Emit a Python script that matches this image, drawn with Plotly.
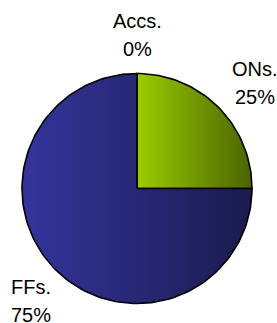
import math
import plotly.graph_objects as go

# Data
labels = ["Accs.", "ONs.", "FFs."]
values = [0, 25, 75]
grad_start = ["#a3d400", "#9acc00", "#34349c"]
grad_end = ["#4a6400", "#4a6400", "#1b1b4e"]

# Layout constants (pixel units of the 277x323 window)
W, H = 277, 323
cx, cy, r = 137, 188.5, 115
label_r = 1.35 * r
line_gap = 14           # half distance between the two label lines
label_nudge = [(0, 2), (8, 4), (4, 3)]  # small placement tweaks per label

total = sum(values)
fig = go.Figure()

cum = 0.0
ann = []
font = dict(family="Liberation Sans, Arial", size=20, color="#000000")
for lab, v, c0, c1, (nx, ny) in zip(labels, values, grad_start, grad_end, label_nudge):
    a0 = cum / total * 2 * math.pi
    cum += v
    a1 = cum / total * 2 * math.pi
    if v > 0:
        n = max(4, int(200 * v / total))
        xs = [cx]
        ys = [cy]
        for i in range(n + 1):
            t = a0 + (a1 - a0) * i / n
            xs.append(cx + r * math.sin(t))
            ys.append(cy - r * math.cos(t))
        xs.append(cx)
        ys.append(cy)
        fig.add_trace(go.Scatter(
            x=xs, y=ys, mode="lines", fill="toself",
            fillgradient=dict(type="horizontal",
                              colorscale=[[0, c0], [1, c1]]),
            line=dict(color="black", width=1.6),
            hoverinfo="skip", showlegend=False))
    mid = (a0 + a1) / 2
    lx = cx + label_r * math.sin(mid) + nx
    ly = cy - label_r * math.cos(mid) + ny
    pct = round(v / total * 100)
    ann.append(dict(x=lx, y=ly - line_gap, xref="x", yref="y", text=lab,
                    showarrow=False, xanchor="center", yanchor="middle", font=font))
    ann.append(dict(x=lx, y=ly + line_gap, xref="x", yref="y", text=f"{pct}%",
                    showarrow=False, xanchor="center", yanchor="middle", font=font))

fig.update_layout(
    width=W, height=H,
    margin=dict(l=0, r=0, t=0, b=0),
    paper_bgcolor="white", plot_bgcolor="white",
    xaxis=dict(range=[0, W], visible=False, fixedrange=True),
    yaxis=dict(range=[H, 0], visible=False, fixedrange=True),
    annotations=ann,
    showlegend=False,
)
fig.write_html(
    "out.html",
    config={"displayModeBar": False},
    post_script="document.body.style.margin='0';document.body.style.overflow='hidden';",
)
